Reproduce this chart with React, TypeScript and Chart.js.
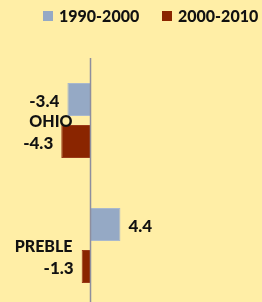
import React, { useEffect, useRef } from "react";
import { Chart, registerables } from "chart.js";

Chart.register(...registerables);

const categories = ["OHIO", "PREBLE"];
const seriesNames = ["1990-2000", "2000-2010"];
const values1990 = [-3.4, 4.4];
const values2000 = [-4.3, -1.3];

const BG = "#FFEEA6";
const FONT = "Lato, 'Open Sans', sans-serif";

export default function App() {
  const ref = useRef<HTMLCanvasElement | null>(null);

  useEffect(() => {
    document.body.style.margin = "0";
    document.body.style.background = BG;
    const canvas = ref.current!;

    const bgPlugin = {
      id: "bg",
      beforeDraw(chart: any) {
        const { ctx, width, height } = chart;
        ctx.save();
        ctx.fillStyle = BG;
        ctx.fillRect(0, 0, width, height);
        ctx.restore();
      },
    };

    const legendPlugin = {
      id: "customLegend",
      afterDraw(chart: any) {
        const { ctx } = chart;
        const boxX = [43, 162];
        ctx.save();
        ctx.font = `900 16px ${FONT}`;
        ctx.textAlign = "left";
        ctx.textBaseline = "middle";
        chart.data.datasets.forEach((ds: any, i: number) => {
          ctx.fillStyle = ds.backgroundColor;
          ctx.fillRect(boxX[i], 11, 10, 10);
          ctx.fillStyle = "#111111";
          ctx.fillText(ds.label, boxX[i] + 16, 17);
        });
        ctx.restore();
      },
    };

    const labelsPlugin = {
      id: "labels",
      afterDatasetsDraw(chart: any) {
        const { ctx, scales } = chart;
        const x0 = scales.x.getPixelForValue(0);
        ctx.save();
        ctx.strokeStyle = "#8E8E9E";
        ctx.lineWidth = 1.5;
        ctx.beginPath();
        ctx.moveTo(x0, chart.chartArea.top);
        ctx.lineTo(x0, chart.chartArea.bottom);
        ctx.stroke();

        ctx.font = `900 17px ${FONT}`;
        ctx.fillStyle = "#111111";
        ctx.textBaseline = "middle";
        chart.data.datasets.forEach((ds: any, di: number) => {
          const meta = chart.getDatasetMeta(di);
          meta.data.forEach((el: any, i: number) => {
            const v = ds.data[i];
            const txt = v.toFixed(1);
            if (v < 0) {
              ctx.textAlign = "right";
              ctx.fillText(txt, el.x - 8, el.y + 2);
            } else {
              ctx.textAlign = "left";
              ctx.fillText(txt, el.x + 8, el.y + 2);
            }
          });
        });
        ctx.font = `900 16px ${FONT}`;
        ctx.textAlign = "right";
        categories.forEach((c, i) => {
          const y = scales.y.getPixelForValue(i);
          ctx.fillText(c, x0 - 18, y + 1);
        });
        ctx.restore();
      },
    };

    const chart = new Chart(canvas, {
      type: "bar",
      data: {
        labels: categories,
        datasets: [
          {
            label: seriesNames[0],
            data: values1990,
            backgroundColor: "#95A9C5",
            borderColor: "#A9B8CC",
            borderWidth: 1,
          },
          {
            label: seriesNames[1],
            data: values2000,
            backgroundColor: "#8A2500",
            borderColor: "#9A3A18",
            borderWidth: 1,
          },
        ],
      },
      options: {
        indexAxis: "y",
        animation: false,
        responsive: false,
        maintainAspectRatio: false,
        layout: { padding: { top: 58, left: 0, right: 0, bottom: 0 } },
        datasets: {
          bar: { barPercentage: 0.786, categoryPercentage: 0.672 },
        },
        scales: {
          x: { display: false, min: -13.31, max: 25.22 },
          y: { display: false },
        },
        plugins: {
          legend: { display: false },
          tooltip: { enabled: false },
        },
      },
      plugins: [bgPlugin, labelsPlugin, legendPlugin],
    } as any);

    return () => chart.destroy();
  }, []);

  return (
    <div style={{ width: 262, height: 302, overflow: "hidden", background: BG }}>
      <canvas ref={ref} width={262} height={308} style={{ display: "block" }} />
    </div>
  );
}
